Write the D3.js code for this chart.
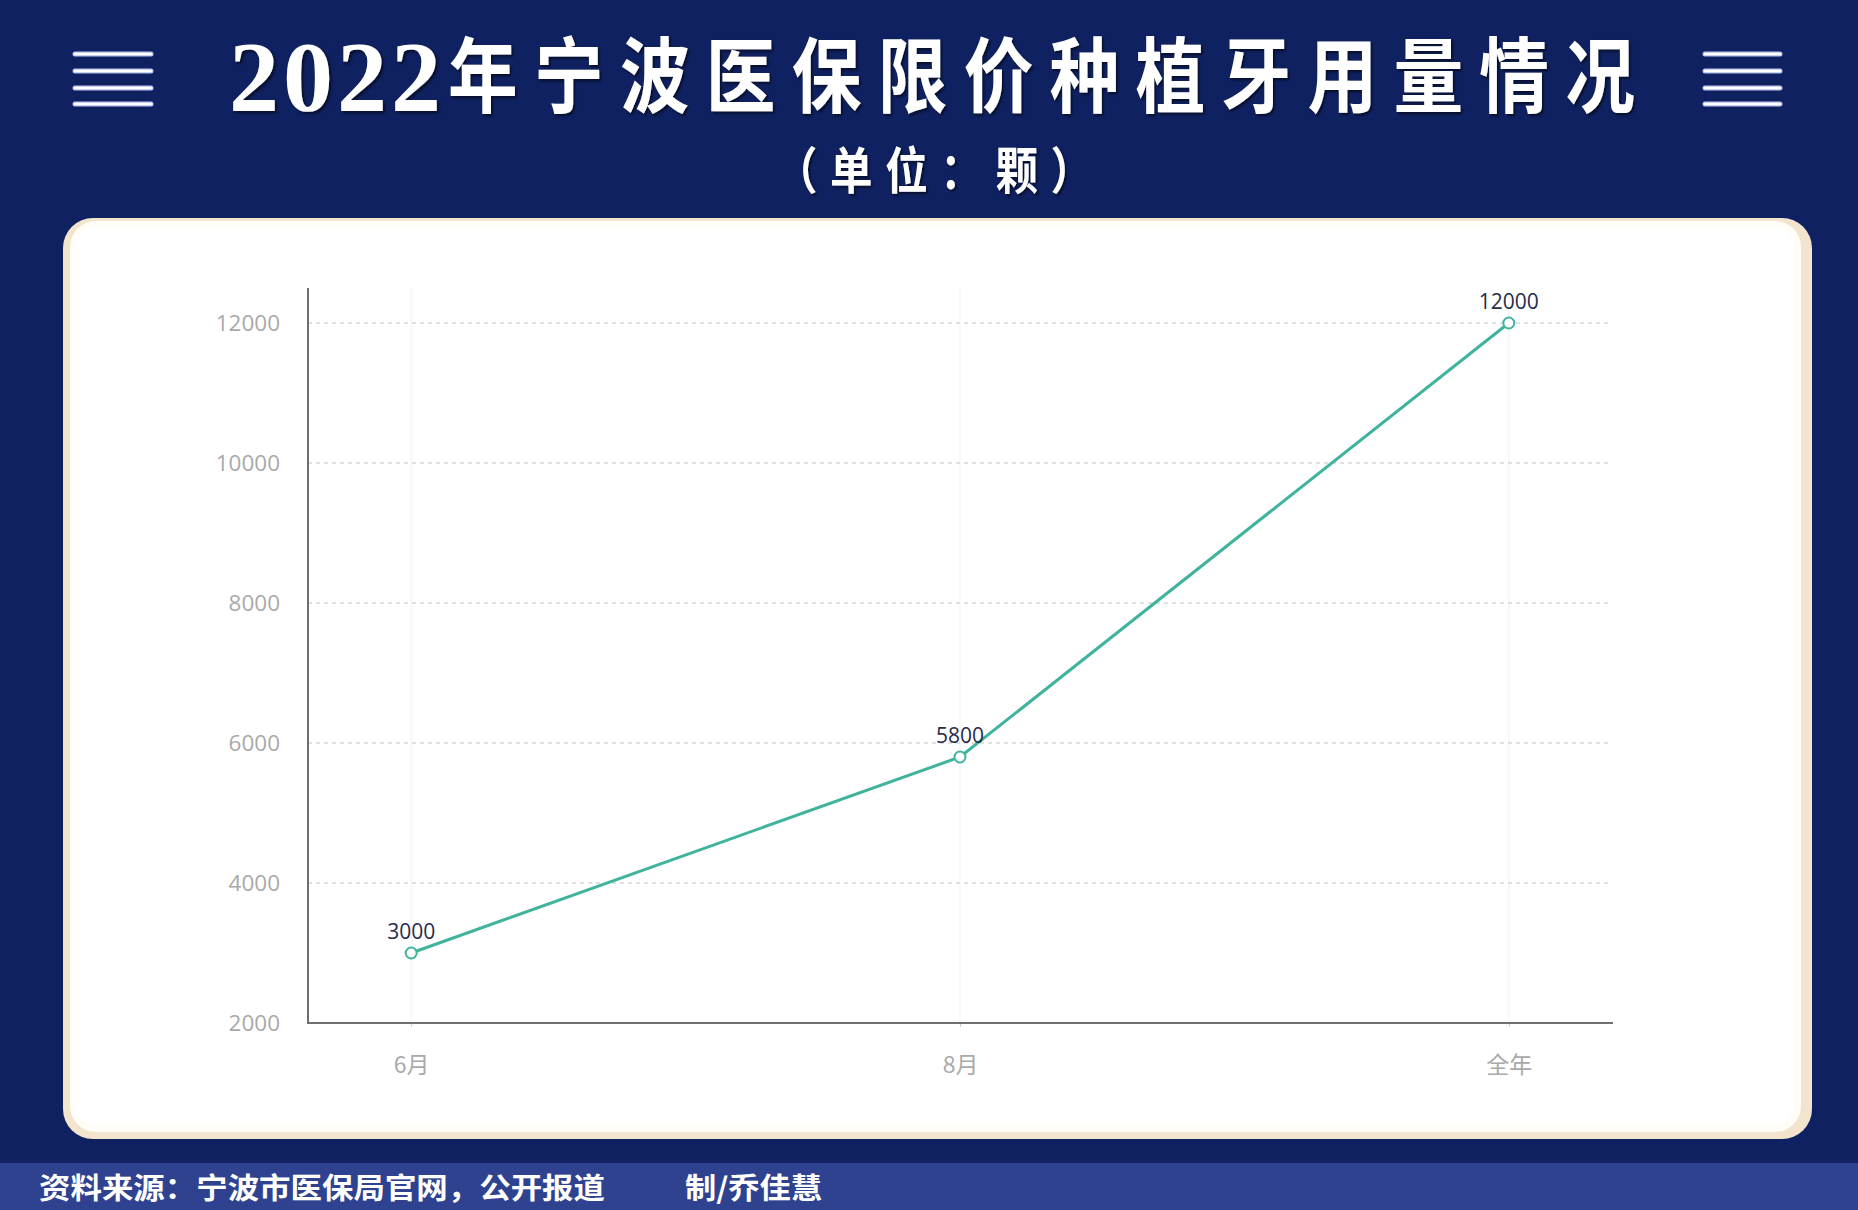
<!DOCTYPE html>
<html>
<head>
<meta charset="utf-8">
<script src="https://cdn.jsdelivr.net/npm/d3@7"></script>
<style>
html,body{margin:0;padding:0;background:#0f2160;}
svg{display:block;}
</style>
</head>
<body>
<svg id="chart" width="1858" height="1210"></svg>
<script>
const titleYear = "2022";
const titleRest = "年宁波医保限价种植牙用量情况";
const subtitleText = "（单位：颗）";
const sourceText = "资料来源：宁波市医保局官网，公开报道";
const authorText = "制/乔佳慧";
const categories = ["6月", "8月", "全年"];
const values = [3000, 5800, 12000];
const yTicks = [2000, 4000, 6000, 8000, 10000, 12000];

const W = 1858, H = 1210;
const svg = d3.select("#chart");
const defs = svg.append("defs");

// background
svg.append("rect").attr("width", W).attr("height", H).attr("fill", "#0f2160");
// footer band
svg.append("rect").attr("x", 0).attr("y", 1163).attr("width", W).attr("height", H - 1163).attr("fill", "#2f4290");

// menu icons
function menuIcon(x0, x1) {
  [54, 71, 88, 104].forEach(yy => {
    svg.append("line").attr("x1", x0).attr("x2", x1).attr("y1", yy).attr("y2", yy)
      .attr("stroke", "#b9c3ef").attr("stroke-width", 5).attr("stroke-linecap", "round");
    svg.append("line").attr("x1", x0).attr("x2", x1).attr("y1", yy).attr("y2", yy)
      .attr("stroke", "#ffffff").attr("stroke-width", 2.5).attr("stroke-linecap", "round");
  });
}
menuIcon(75, 151);
menuIcon(1705, 1780);

// title
const shadow = defs.append("filter").attr("id", "tshadow").attr("x", "-5%").attr("y", "-20%").attr("width", "110%").attr("height", "140%");
shadow.append("feDropShadow").attr("dx", 2).attr("dy", 2).attr("stdDeviation", 1.5).attr("flood-color", "#000").attr("flood-opacity", 0.6);

svg.append("text")
  .attr("x", 229).attr("y", 110)
  .attr("font-family", "'Liberation Serif',serif")
  .attr("font-weight", "bold")
  .attr("font-size", 100)
  .attr("fill", "#ffffff")
  .attr("filter", "url(#tshadow)")
  .attr("textLength", 212)
  .attr("lengthAdjust", "spacing")
  .text(titleYear);

const sx = 0.85;
svg.append("g").attr("transform", `translate(448,0) scale(${sx},1)`)
  .append("text")
  .attr("x", 0).attr("y", 106)
  .attr("font-family", "'Noto Sans CJK SC',sans-serif")
  .attr("font-weight", "bold")
  .attr("font-size", 82)
  .attr("fill", "#ffffff")
  .attr("filter", "url(#tshadow)")
  .attr("textLength", 1187 / sx)
  .attr("lengthAdjust", "spacing")
  .text(titleRest);

const subG = svg.append("g").attr("transform", "translate(934,0) scale(0.85,1)");
subG.append("text")
  .attr("x", 0).attr("y", 189)
  .attr("text-anchor", "middle")
  .attr("font-family", "'Noto Sans CJK SC',sans-serif")
  .attr("font-weight", "bold")
  .attr("font-size", 50)
  .attr("fill", "#ffffff")
  .attr("filter", "url(#tshadow)")
  .attr("textLength", 318 / 0.85)
  .attr("lengthAdjust", "spacing")
  .text(subtitleText);

// card
svg.append("rect").attr("x", 63).attr("y", 218).attr("width", 1749).attr("height", 921)
  .attr("rx", 30).attr("fill", "#f2e4cd");
svg.append("rect").attr("x", 70).attr("y", 221).attr("width", 1731).attr("height", 911)
  .attr("rx", 26).attr("fill", "#fffdf8");
svg.append("rect").attr("x", 76).attr("y", 226).attr("width", 1718).attr("height", 900)
  .attr("rx", 22).attr("fill", "#ffffff");

// chart
const x = d3.scalePoint().domain(categories).range([308, 1612]).padding(0.188);
const y = d3.scaleLinear().domain([2000, 12000]).range([1023, 323]);

const g = svg.append("g");

// vertical faint grid
g.selectAll(".vgrid").data(categories).enter().append("line")
  .attr("x1", d => x(d)).attr("x2", d => x(d))
  .attr("y1", 288).attr("y2", 1023)
  .attr("stroke", "#f1f1f1").attr("stroke-width", 1);

// horizontal dashed grid
g.selectAll(".hgrid").data(yTicks.filter(t => t > 2000)).enter().append("line")
  .attr("x1", 308).attr("x2", 1612)
  .attr("y1", d => y(d)).attr("y2", d => y(d))
  .attr("stroke", "#d6d6d6").attr("stroke-width", 1.3).attr("stroke-dasharray", "4,4");

// y axis
const yAxis = d3.axisLeft(y).tickValues(yTicks).tickSize(0).tickPadding(28).tickFormat(d3.format("d"));
const yG = g.append("g").attr("transform", "translate(308,0)").call(yAxis);
yG.select(".domain").remove();
yG.selectAll("text").attr("fill", "#a9a9a9").attr("font-size", 22.5)
  .attr("font-family", "'Open Sans','Noto Sans',sans-serif");
g.append("line").attr("x1", 308).attr("x2", 308).attr("y1", 288).attr("y2", 1024)
  .attr("stroke", "#6f6f6f").attr("stroke-width", 2);

// x axis
const xAxis = d3.axisBottom(x).tickSize(4).tickPadding(30);
const xG = g.append("g").attr("transform", "translate(0,1023)").call(xAxis);
xG.select(".domain").remove();
xG.selectAll(".tick line").attr("stroke", "#cccccc");
xG.selectAll("text").attr("fill", "#a9a9a9").attr("font-size", 23)
  .attr("font-family", "'Noto Sans CJK SC',sans-serif");
g.append("line").attr("x1", 307).attr("x2", 1613).attr("y1", 1023).attr("y2", 1023)
  .attr("stroke", "#6f6f6f").attr("stroke-width", 2);

// line
const data = categories.map((c, i) => ({c, v: values[i]}));
const line = d3.line().x(d => x(d.c)).y(d => y(d.v));
g.append("path").datum(data).attr("d", line)
  .attr("fill", "none").attr("stroke", "#3fb39c").attr("stroke-width", 3);

g.selectAll(".pt").data(data).enter().append("circle")
  .attr("cx", d => x(d.c)).attr("cy", d => y(d.v)).attr("r", 5.5)
  .attr("fill", "#ffffff").attr("stroke", "#3fb39c").attr("stroke-width", 2);

g.selectAll(".lbl").data(data).enter().append("text")
  .attr("x", d => x(d.c)).attr("y", d => y(d.v) - 14)
  .attr("text-anchor", "middle")
  .attr("font-family", "'Open Sans','Noto Sans',sans-serif")
  .attr("font-size", 21)
  .attr("fill", "#262c4c")
  .text(d => d.v);

// footer texts
svg.append("text").attr("x", 39).attr("y", 1199)
  .attr("font-family", "'Noto Sans CJK SC',sans-serif").attr("font-weight", "bold")
  .attr("font-size", 29).attr("fill", "#ffffff")
  .attr("textLength", 566).attr("lengthAdjust", "spacingAndGlyphs")
  .text(sourceText);
svg.append("text").attr("x", 685).attr("y", 1199)
  .attr("font-family", "'Noto Sans CJK SC',sans-serif").attr("font-weight", "bold")
  .attr("font-size", 29).attr("fill", "#ffffff")
  .attr("textLength", 137).attr("lengthAdjust", "spacingAndGlyphs")
  .text(authorText);
</script>
</body>
</html>
